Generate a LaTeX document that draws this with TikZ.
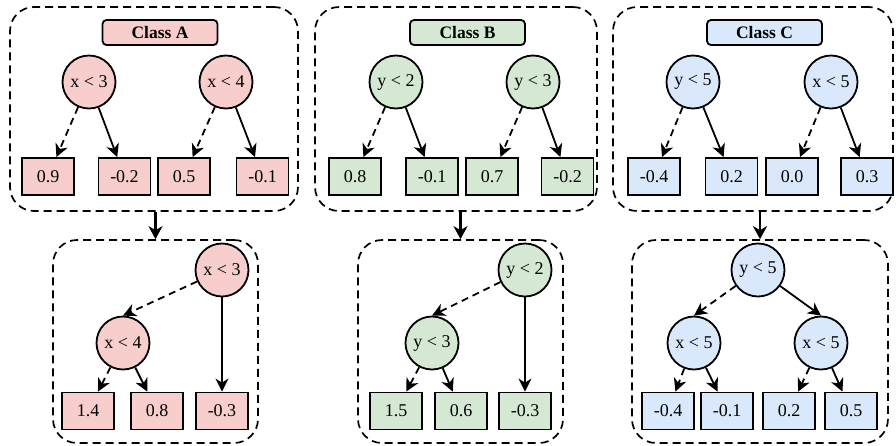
\documentclass[tikz,border=0pt]{standalone}
\usepackage{fontspec}
\setmainfont{Liberation Serif}
\usetikzlibrary{arrows.meta}

\definecolor{fillA}{HTML}{F8CECC}
\definecolor{fillB}{HTML}{D5E8D4}
\definecolor{fillC}{HTML}{DAE8FC}

\tikzset{
  base/.style={draw=black, line width=1.8pt, inner sep=0pt,
    font=\fontsize{18}{20}\selectfont},
  splitnode/.style={base, circle, minimum size=53pt},
  leaf/.style={base, rectangle, minimum width=52pt, minimum height=37pt},
  classtag/.style={base, rounded corners=4pt, minimum width=115pt,
    minimum height=25pt, font=\fontsize{17.5}{20}\selectfont\bfseries},
  group/.style={draw=black, line width=1.7pt, dash pattern=on 8pt off 5pt,
    rounded corners=24pt, inner sep=0pt},
  tip/.style={-{Stealth[length=13pt,width=13pt,inset=4pt]}},
  yes/.style={tip, line width=1.8pt, dash pattern=on 7pt off 5pt},
  no/.style={tip, line width=1.8pt},
  merge/.style={-{Stealth[length=13pt,width=14pt,inset=4pt]}, line width=2.4pt},
}

\begin{document}
\begin{tikzpicture}[x=1pt, y=-1pt]
\useasboundingbox (0,0) rectangle (896,445);

% ---------- containers ----------
\node[group, minimum width=288pt, minimum height=204pt] (gA) at (154,109) {};
\node[group, minimum width=282pt, minimum height=204pt] (gB) at (456,109) {};
\node[group, minimum width=280pt, minimum height=204pt] (gC) at (753,109) {};
\node[group, minimum width=205pt, minimum height=203pt] (hA) at (155.5,341.5) {};
\node[group, minimum width=205pt, minimum height=203pt] (hB) at (460.5,341.5) {};
\node[group, minimum width=256pt, minimum height=203pt] (hC) at (760,341.5) {};

% ---------- class A, two stumps ----------
\node[classtag, fill=fillA] (tagA) at (160,32.5) {Class A};
\node[splitnode, fill=fillA] (a1) at (89,82) {x < 3};
\node[splitnode, fill=fillA] (a2) at (226,82) {x < 4};
\node[leaf, fill=fillA] (a1l) at (48,176.5) {0.9};
\node[leaf, fill=fillA] (a1r) at (124.5,176.5) {-0.2};
\node[leaf, fill=fillA] (a2l) at (184,176.5) {0.5};
\node[leaf, fill=fillA] (a2r) at (262.5,176.5) {-0.1};
\draw[yes] (a1) -- (a1l);
\draw[no]  (a1) -- (a1r);
\draw[yes] (a2) -- (a2l);
\draw[no]  (a2) -- (a2r);

% ---------- class B, two stumps ----------
\node[classtag, fill=fillB] (tagB) at (467.5,32.5) {Class B};
\node[splitnode, fill=fillB] (b1) at (396,82) {y < 2};
\node[splitnode, fill=fillB] (b2) at (533,82) {y < 3};
\node[leaf, fill=fillB] (b1l) at (355,176.5) {0.8};
\node[leaf, fill=fillB] (b1r) at (432,176.5) {-0.1};
\node[leaf, fill=fillB] (b2l) at (492,176.5) {0.7};
\node[leaf, fill=fillB] (b2r) at (567.5,176.5) {-0.2};
\draw[yes] (b1) -- (b1l);
\draw[no]  (b1) -- (b1r);
\draw[yes] (b2) -- (b2l);
\draw[no]  (b2) -- (b2r);

% ---------- class C, two stumps ----------
\node[classtag, fill=fillC] (tagC) at (764.5,32.5) {Class C};
\node[splitnode, fill=fillC] (c1) at (693,82) {y < 5};
\node[splitnode, fill=fillC] (c2) at (831,82) {x < 5};
\node[leaf, fill=fillC] (c1l) at (654,176.5) {-0.4};
\node[leaf, fill=fillC] (c1r) at (731.5,176.5) {0.2};
\node[leaf, fill=fillC] (c2l) at (792,176.5) {0.0};
\node[leaf, fill=fillC] (c2r) at (867,176.5) {0.3};
\draw[yes] (c1) -- (c1l);
\draw[no]  (c1) -- (c1r);
\draw[yes] (c2) -- (c2l);
\draw[no]  (c2) -- (c2r);

% ---------- merged tree A ----------
\node[splitnode, fill=fillA] (A1) at (222,270) {x < 3};
\node[splitnode, fill=fillA] (A2) at (123,343) {x < 4};
\node[leaf, fill=fillA] (A2l) at (88,411) {1.4};
\node[leaf, fill=fillA] (A2r) at (157,411) {0.8};
\node[leaf, fill=fillA] (A1r) at (222,411) {-0.3};
\draw[yes] (A1) -- (A2.north);
\draw[no]  (A1) -- (A1r);
\draw[yes] (A2) -- (A2l);
\draw[no]  (A2) -- (A2r);

% ---------- merged tree B ----------
\node[splitnode, fill=fillB] (B1) at (525,270) {y < 2};
\node[splitnode, fill=fillB] (B2) at (432,343) {y < 3};
\node[leaf, fill=fillB] (B2l) at (396,411) {1.5};
\node[leaf, fill=fillB] (B2r) at (461,411) {0.6};
\node[leaf, fill=fillB] (B1r) at (525,411) {-0.3};
\draw[yes] (B1) -- (B2.north);
\draw[no]  (B1) -- (B1r);
\draw[yes] (B2) -- (B2l);
\draw[no]  (B2) -- (B2r);

% ---------- merged tree C ----------
\node[splitnode, fill=fillC] (C1) at (758,270) {y < 5};
\node[splitnode, fill=fillC] (C2) at (694,343) {x < 5};
\node[splitnode, fill=fillC] (C3) at (821,343) {x < 5};
\node[leaf, fill=fillC] (C2l) at (668,411) {-0.4};
\node[leaf, fill=fillC] (C2r) at (727,411) {-0.1};
\node[leaf, fill=fillC] (C3l) at (789,411) {0.2};
\node[leaf, fill=fillC] (C3r) at (851,411) {0.5};
\draw[yes] (C1) -- (C2.north);
\draw[no]  (C1) -- (C3.north);
\draw[yes] (C2) -- (C2l);
\draw[no]  (C2) -- (C2r);
\draw[yes] (C3) -- (C3l);
\draw[no]  (C3) -- (C3r);

% ---------- stumps merged into one tree per class ----------
\draw[merge] (hA.north |- gA.south) -- (hA.north);
\draw[merge] (hB.north |- gB.south) -- (hB.north);
\draw[merge] (hC.north |- gC.south) -- (hC.north);
\end{tikzpicture}
\end{document}
